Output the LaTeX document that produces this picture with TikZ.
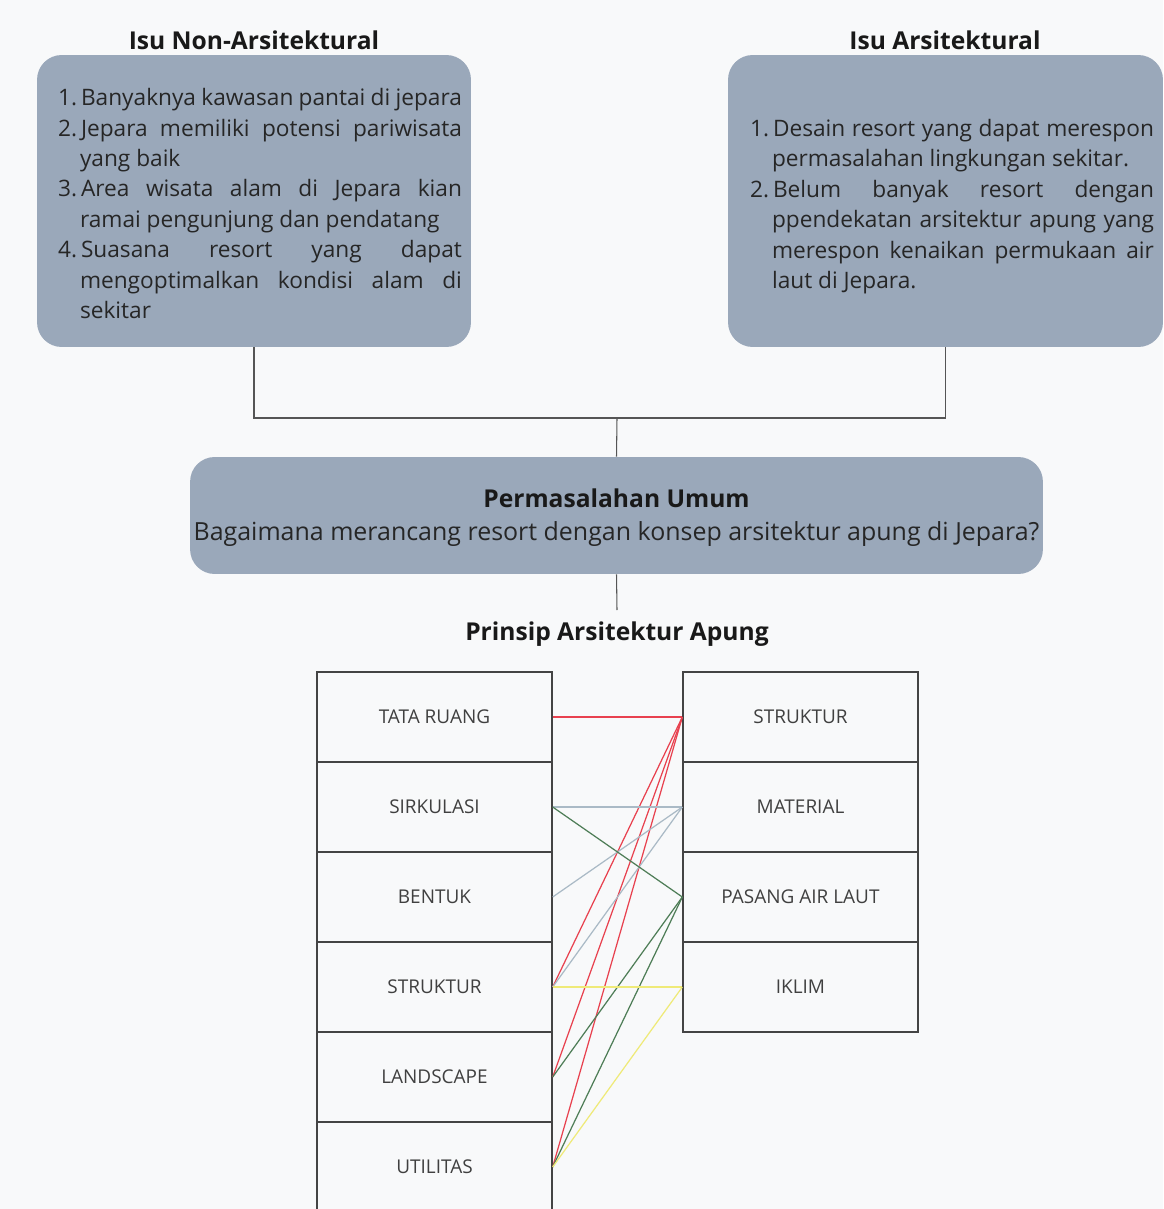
\documentclass[tikz,border=0pt]{standalone}
\usepackage{fontspec}
\setmainfont{Open Sans}
\usepackage{enumitem}
\definecolor{bgcol}{HTML}{F8F9FA}
\definecolor{boxcol}{HTML}{9AA8BA}
\definecolor{conncol}{HTML}{555555}
\definecolor{cellcol}{HTML}{444444}
\definecolor{redln}{HTML}{E8414F}
\definecolor{blueln}{HTML}{AABAC6}
\definecolor{greenln}{HTML}{4E7D57}
\definecolor{yellowln}{HTML}{EFEA78}
\setlist[enumerate]{label=\arabic*., leftmargin=0.44cm, labelwidth=0.36cm, labelsep=0.08cm, align=left, topsep=0pt, partopsep=0pt, itemsep=0pt, parsep=0pt}
\hyphenpenalty=10000\relax
\exhyphenpenalty=10000\relax

\begin{document}
\begin{tikzpicture}[x=0.02cm, y=-0.02cm,
	isu/.style={fill=boxcol, rounded corners=14pt, minimum width=8.68cm, minimum height=5.84cm},
	isutext/.style={text width=8.08cm, align=justify, font=\fontsize{12.9}{17.3}\selectfont, text=black!85},
	title/.style={font=\fontsize{14}{17}\selectfont\bfseries, text=black!90},
	cell/.style={draw=cellcol, line width=0.8pt, minimum width=4.7cm, minimum height=1.8cm, font=\fontsize{10.8}{13}\selectfont, text=black!75},
	conn/.style={draw=conncol, line width=0.6pt},
	link/.style={line width=0.7pt}]

	\fill[bgcol] (0,0) rectangle (1163,1209);
	\useasboundingbox (0,0) rectangle (1163,1209);

	\node[title] (t1) at (254,40) {Isu Non-Arsitektural};
	\node[title] (t2) at (945,40) {Isu Arsitektural};

	\node[isu] (nonarsi) at (254,201) {};
	\node[isu, minimum width=8.7cm] (arsi) at (945.5,201) {};

	\node[isutext] (nonarsitext) at (260,197) {
		\begin{enumerate}
			\item Banyaknya kawasan pantai di jepara
			\item Jepara memiliki potensi pariwisata yang baik
			\item Area wisata alam di Jepara kian ramai pengunjung dan pendatang
			\item Suasana resort yang dapat mengoptimalkan kondisi alam di sekitar
		\end{enumerate}};
	\node[isutext] (arsitext) at (952,200) {
		\begin{enumerate}
			\item Desain resort yang dapat merespon permasalahan lingkungan sekitar.
			\item Belum banyak resort dengan ppendekatan arsitektur apung yang merespon kenaikan permukaan air laut di Jepara.
		\end{enumerate}};

	\node[fill=boxcol, rounded corners=14pt, minimum width=17.06cm, minimum height=2.34cm] (umum) at (616.5,515.5) {};
	\node[title] (umumtitle) at (616.5,498) {Permasalahan Umum};
	\node[font=\fontsize{14.2}{17}\selectfont, text=black!85] (umumtext) at (616.5,534) {Bagaimana merancang resort dengan konsep arsitektur apung di Jepara?};

	\coordinate (jn) at (617,418);
	\coordinate (pr) at (617,610);
	\draw[conn] (nonarsi.south) |- (jn) -| (arsi.south);
	\draw[conn] (jn) -- (umum.north);
	\draw[conn] (umum.south) -- (pr);

	\node[title] (prinsip) at (617,634) {Prinsip Arsitektur Apung};

	\node[cell] (tata) at (434.5,717) {TATA RUANG};
	\node[cell] (sirk) at (434.5,807) {SIRKULASI};
	\node[cell] (bentuk) at (434.5,897) {BENTUK};
	\node[cell] (lstruk) at (434.5,987) {STRUKTUR};
	\node[cell] (land) at (434.5,1077) {LANDSCAPE};
	\node[cell] (util) at (434.5,1167) {UTILITAS};

	\node[cell] (rstruk) at (800.5,717) {STRUKTUR};
	\node[cell] (mat) at (800.5,807) {MATERIAL};
	\node[cell] (pasang) at (800.5,897) {PASANG AIR LAUT};
	\node[cell] (iklim) at (800.5,987) {IKLIM};

	\draw[link, redln] (tata.east) -- (rstruk.west);
	\draw[link, redln] (lstruk.east) -- (rstruk.west);
	\draw[link, redln] (land.east) -- (rstruk.west);
	\draw[link, redln] (util.east) -- (rstruk.west);

	\draw[link, blueln] (sirk.east) -- (mat.west);
	\draw[link, blueln] (bentuk.east) -- (mat.west);
	\draw[link, blueln] (lstruk.east) -- (mat.west);

	\draw[link, greenln] (sirk.east) -- (pasang.west);
	\draw[link, greenln] (land.east) -- (pasang.west);
	\draw[link, greenln] (util.east) -- (pasang.west);

	\draw[link, yellowln] (lstruk.east) -- (iklim.west);
	\draw[link, yellowln] (util.east) -- (iklim.west);

\end{tikzpicture}
\end{document}
